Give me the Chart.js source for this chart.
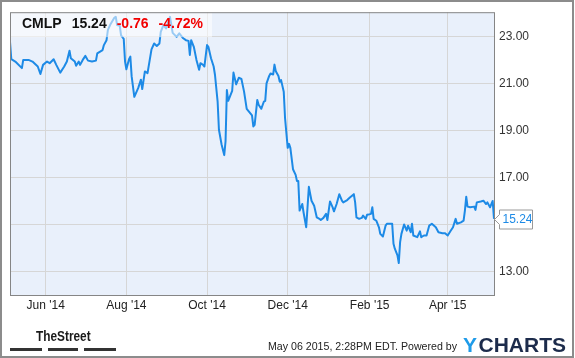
<!DOCTYPE html>
<html>
<head>
<meta charset="utf-8">
<script src="https://cdn.jsdelivr.net/npm/chart.js@4.4.1/dist/chart.umd.min.js"></script>
<style>
  html, body { margin: 0; padding: 0; background: #fff; }
  canvas { display: block; }
</style>
</head>
<body>
<canvas id="chart" width="575" height="358"></canvas>
<script>
const ticker = 'CMLP';
const lastPrice = 15.24;
const change = -0.76;
const changePct = -4.72;
const stamp = 'May 06 2015, 2:28PM EDT. Powered by';

const dates = [
  '2014-05-05','2014-05-06','2014-05-09','2014-05-14','2014-05-15','2014-05-19','2014-05-22','2014-05-26','2014-05-28','2014-05-30',
  '2014-06-02','2014-06-04','2014-06-07','2014-06-09','2014-06-12','2014-06-15','2014-06-17','2014-06-19','2014-06-20','2014-06-23',
  '2014-06-24','2014-06-26','2014-06-27','2014-06-29','2014-07-01','2014-07-03','2014-07-06','2014-07-09','2014-07-10','2014-07-14',
  '2014-07-15','2014-07-17','2014-07-18','2014-07-20','2014-07-23','2014-07-24','2014-07-25','2014-07-27','2014-07-28','2014-07-30',
  '2014-07-31','2014-08-01','2014-08-03','2014-08-04','2014-08-05','2014-08-07','2014-08-10','2014-08-12','2014-08-13','2014-08-15',
  '2014-08-17','2014-08-20','2014-08-22','2014-08-24','2014-08-26','2014-08-27','2014-08-29','2014-08-31','2014-09-03','2014-09-05',
  '2014-09-08','2014-09-10','2014-09-13','2014-09-15','2014-09-17','2014-09-18','2014-09-19','2014-09-21','2014-09-23','2014-09-25',
  '2014-09-26','2014-09-28','2014-09-29','2014-10-01','2014-10-02','2014-10-04','2014-10-06','2014-10-07','2014-10-09','2014-10-10',
  '2014-10-12','2014-10-14','2014-10-15','2014-10-16','2014-10-17','2014-10-20','2014-10-21','2014-10-23','2014-10-25','2014-10-27',
  '2014-10-29','2014-10-31','2014-11-02','2014-11-04','2014-11-05','2014-11-06','2014-11-08','2014-11-09','2014-11-11','2014-11-13',
  '2014-11-14','2014-11-15','2014-11-17','2014-11-18','2014-11-20','2014-11-21','2014-11-22','2014-11-24','2014-11-25','2014-11-26',
  '2014-11-28','2014-11-29','2014-12-01','2014-12-02','2014-12-03','2014-12-05','2014-12-07','2014-12-08','2014-12-09','2014-12-10',
  '2014-12-12','2014-12-13','2014-12-15','2014-12-17','2014-12-19','2014-12-21','2014-12-23','2014-12-25','2014-12-26','2014-12-28',
  '2014-12-30','2014-12-31','2015-01-02','2015-01-04','2015-01-05','2015-01-07','2015-01-09','2015-01-11','2015-01-12','2015-01-15',
  '2015-01-17','2015-01-20','2015-01-21','2015-01-22','2015-01-24','2015-01-26','2015-01-27','2015-01-29','2015-01-30','2015-01-31',
  '2015-02-02','2015-02-03','2015-02-04','2015-02-06','2015-02-08','2015-02-09','2015-02-11','2015-02-13','2015-02-14','2015-02-17',
  '2015-02-18','2015-02-19','2015-02-20','2015-02-22','2015-02-23','2015-02-24','2015-02-25','2015-02-27','2015-03-01','2015-03-02',
  '2015-03-04','2015-03-05','2015-03-06','2015-03-09','2015-03-11','2015-03-12','2015-03-14','2015-03-16','2015-03-18','2015-03-20',
  '2015-03-23','2015-03-25','2015-03-28','2015-03-30','2015-04-01','2015-04-03','2015-04-05','2015-04-07','2015-04-08','2015-04-11',
  '2015-04-13','2015-04-14','2015-04-15','2015-04-16','2015-04-18','2015-04-21','2015-04-22','2015-04-23','2015-04-26','2015-04-28',
  '2015-04-30','2015-05-01','2015-05-03','2015-05-05','2015-05-06'
];
const closes = [
  22.77,22.03,21.93,21.65,22.00,22.00,21.93,21.72,21.40,21.79,
  21.93,21.86,22.03,21.79,21.46,21.72,21.93,22.39,22.07,21.93,
  21.75,21.93,21.79,22.00,22.17,21.97,21.93,21.97,22.28,22.42,
  22.63,22.84,23.27,23.52,23.80,23.83,23.48,23.45,23.04,22.90,
  21.93,21.60,22.03,22.14,21.30,20.43,20.81,21.16,20.76,21.51,
  21.44,22.45,22.70,22.59,22.70,23.19,23.48,23.34,23.83,23.15,
  22.98,23.13,22.92,22.84,22.81,22.21,22.84,22.56,22.00,21.58,
  21.86,21.79,21.72,22.63,22.56,22.07,21.72,21.37,20.23,19.03,
  18.40,17.95,18.54,20.72,20.26,20.68,21.46,20.96,21.24,21.19,
  20.65,19.92,19.78,19.64,19.17,19.24,20.30,20.09,19.92,20.23,
  20.26,21.00,21.32,21.42,21.38,21.80,21.52,21.32,21.07,21.14,
  20.65,19.52,18.26,18.43,18.26,17.35,17.11,16.85,16.85,15.59,
  15.87,15.51,14.88,16.60,16.01,15.80,15.30,15.24,15.19,15.28,
  15.45,15.19,15.98,15.73,15.56,15.87,16.29,16.01,15.94,16.04,
  16.15,16.29,15.94,15.30,15.24,15.28,15.38,15.24,15.41,15.42,
  15.45,15.73,15.24,15.16,14.88,14.60,14.49,14.95,15.03,15.03,
  15.03,14.18,13.97,13.69,13.36,14.25,14.60,15.00,14.74,14.95,
  14.67,15.03,14.53,14.46,14.71,14.46,14.53,14.53,14.95,15.03,
  14.88,14.67,14.63,14.63,14.53,14.71,14.88,15.24,15.03,15.09,
  15.16,15.59,16.18,15.76,15.73,15.76,15.62,15.94,15.98,16.01,
  15.87,15.94,15.73,16.00,15.24
];
const monthTicks = ['2014-06-01','2014-08-01','2014-10-01','2014-12-01','2015-02-01','2015-04-01'];
const monthLabels = ["Jun '14", "Aug '14", "Oct '14", "Dec '14", "Feb '15", "Apr '15"];
const priceTicks = [13, 15, 17, 19, 21, 23];

const FONT = "'Liberation Sans', Arial, sans-serif";
const LINE_BLUE = '#1d8ae6';
const day = s => Date.parse(s) / 86400000;

Chart.defaults.font.family = FONT;

const points = dates.map((d, i) => ({ x: day(d), y: closes[i] }));

const decorations = {
  id: 'decorations',
  beforeDraw(chart) {
    const { ctx, chartArea: a } = chart;
    ctx.save();
    ctx.fillStyle = '#fff';
    ctx.fillRect(0, 0, chart.width, chart.height);
    ctx.fillStyle = '#e9f0fb';
    ctx.fillRect(a.left, a.top, a.right - a.left, a.bottom - a.top);
    ctx.restore();
  },
  afterDatasetsDraw(chart) {
    // quote box, top left, over the line
    const { ctx, chartArea: a } = chart;
    ctx.save();
    ctx.fillStyle = 'rgba(255,255,255,0.55)';
    ctx.fillRect(a.left, a.top, 202, 25);
    ctx.font = 'bold 14px ' + FONT;
    ctx.textBaseline = 'alphabetic';
    const parts = [
      [ticker, '#111'],
      [lastPrice.toFixed(2), '#111'],
      [change.toFixed(2), '#f20000'],
      [changePct.toFixed(2) + '%', '#f20000']
    ];
    let x = a.left + 12;
    parts.forEach(([t, c]) => {
      ctx.fillStyle = c;
      ctx.fillText(t, x, 28);
      x += ctx.measureText(t).width + 10;
    });
    ctx.restore();
  },
  afterDraw(chart) {
    const { ctx, chartArea: a } = chart;
    const yScale = chart.scales.y;
    ctx.save();

    // plot border
    ctx.strokeStyle = '#858585';
    ctx.lineWidth = 1;
    ctx.strokeRect(a.left + 0.5, a.top + 0.5, a.right - a.left, a.bottom - a.top);

    // outer frame
    ctx.strokeStyle = '#8c8c8c';
    ctx.lineWidth = 2;
    ctx.strokeRect(1, 1, 572, 356);

    // last price tag
    const py = Math.round(yScale.getPixelForValue(lastPrice)) + 0.5;
    const bx = a.right + 5.5, bw = 33, bh = 19;
    ctx.beginPath();
    ctx.moveTo(a.right + 0.5, py);
    ctx.lineTo(bx, py - 5);
    ctx.lineTo(bx, py - bh / 2);
    ctx.lineTo(bx + bw, py - bh / 2);
    ctx.lineTo(bx + bw, py + bh / 2);
    ctx.lineTo(bx, py + bh / 2);
    ctx.lineTo(bx, py + 5);
    ctx.closePath();
    ctx.fillStyle = '#fff';
    ctx.fill();
    ctx.strokeStyle = '#999';
    ctx.lineWidth = 1;
    ctx.stroke();
    ctx.fillStyle = LINE_BLUE;
    ctx.font = '12px ' + FONT;
    ctx.textBaseline = 'middle';
    ctx.fillText(lastPrice.toFixed(2), bx + 3, py + 0.5);

    // TheStreet mark
    ctx.save();
    ctx.translate(36, 341);
    ctx.scale(0.79, 1);
    ctx.font = 'bold 15px ' + FONT;
    ctx.textBaseline = 'alphabetic';
    ctx.fillStyle = '#1a1a1a';
    ctx.fillText('TheStreet', 0, 0);
    ctx.restore();
    ctx.fillStyle = '#333';
    ctx.fillRect(10, 348, 32, 3);
    ctx.fillRect(48, 348, 30, 3);
    ctx.fillRect(84, 348, 32, 3);

    // timestamp, squeezed to the width it has in the original
    ctx.font = '11px ' + FONT;
    ctx.fillStyle = '#222';
    ctx.textBaseline = 'alphabetic';
    const sw = ctx.measureText(stamp).width;
    ctx.save();
    ctx.translate(268, 349.5);
    ctx.scale(189 / sw, 1);
    ctx.fillText(stamp, 0, 0);
    ctx.restore();

    // YCharts mark
    ctx.font = 'bold 21px ' + FONT;
    ctx.fillStyle = '#1e9be9';
    ctx.fillText('Y', 463, 352);
    ctx.fillStyle = '#1c2b4b';
    ctx.fillText('CHARTS', 478.5, 352);

    ctx.restore();
  }
};

new Chart(document.getElementById('chart'), {
  type: 'line',
  data: {
    datasets: [{
      data: points,
      borderColor: LINE_BLUE,
      borderWidth: 2,
      pointRadius: 0,
      tension: 0,
      fill: false,
      borderJoinStyle: 'round'
    }]
  },
  options: {
    animation: false,
    responsive: false,
    layout: { padding: { left: 10, top: 10, right: 0, bottom: 0 } },
    plugins: {
      legend: { display: false },
      tooltip: { enabled: false }
    },
    scales: {
      x: {
        type: 'linear',
        min: day(dates[0]),
        max: day(dates[dates.length - 1]),
        afterBuildTicks: ax => { ax.ticks = monthTicks.map(d => ({ value: day(d) })); },
        afterFit: ax => { ax.height = 63; },
        grid: { color: '#d6d6d6', drawTicks: false },
        border: { display: false },
        ticks: {
          padding: 3,
          color: '#222',
          font: { size: 12 },
          maxRotation: 0,
          autoSkip: false,
          callback: (v, i) => monthLabels[i]
        }
      },
      y: {
        position: 'right',
        min: 12,
        max: 24.03,
        afterBuildTicks: ax => { ax.ticks = priceTicks.map(v => ({ value: v })); },
        afterFit: ax => { ax.width = 81; },
        grid: { color: '#d6d6d6', drawTicks: false },
        border: { display: false },
        ticks: {
          padding: 5,
          color: '#333',
          font: { size: 12 },
          callback: v => v.toFixed(2)
        }
      }
    }
  },
  plugins: [decorations]
});
</script>
</body>
</html>
